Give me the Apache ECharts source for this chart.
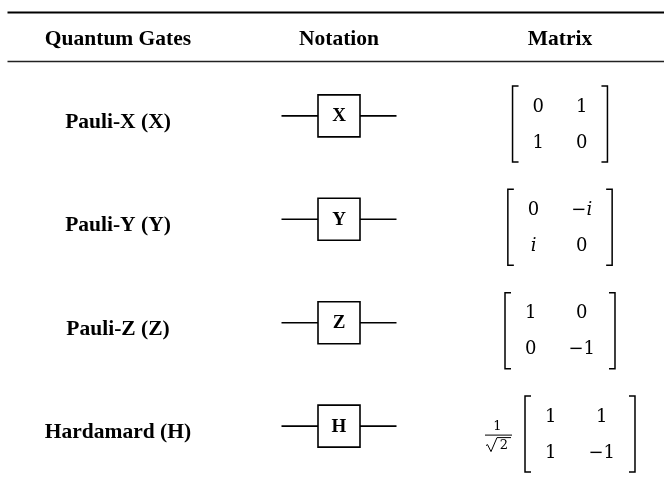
<!DOCTYPE html>
<html>
<head>
<meta charset="utf-8">
<script src="https://cdn.jsdelivr.net/npm/echarts@6/dist/echarts.min.js"></script>
<style>
  html, body { margin: 0; padding: 0; background: #fff; }
  #main { width: 664px; height: 483px; }
</style>
</head>
<body>
<div id="main"></div>
<script>
// table content
const columnTitles = ['Quantum Gates', 'Notation', 'Matrix'];
const gateNames = ['Pauli-X (X)', 'Pauli-Y (Y)', 'Pauli-Z (Z)', 'Hardamard (H)'];
const gateSymbols = ['X', 'Y', 'Z', 'H'];
const matrixTop = [['0', '1'], ['0', '−i'], ['1', '0'], ['1', '1']];
const matrixBottom = [['1', '0'], ['i', '0'], ['0', '−1'], ['1', '−1']];
const prefactorNum = ['', '', '', '1'];
const prefactorRad = ['', '', '', '2'];

// layout: column / row positions on the (hidden) axes
const COL0 = 118, COL_STEP = 221;       // px centre of first column, px per column
const ROW_TOP = 12.5, ROW_STEP = 103.4; // px of row 0, px per row
const HEADER_ROW = 0.261, MID_RULE_ROW = 0.474;

const TEXT_FONT = '"Liberation Serif", "Times New Roman", serif';
const MATH_FONT = '"DejaVu Serif", serif';
const MATH_SIZE = 18;
const PAD = 20, SEP = 32;               // bracket padding, column gap
const FRAC_W = 27, FRAC_GAP = 13;

const mctx = document.createElement('canvas').getContext('2d');
function textW(s) {
  mctx.font = MATH_SIZE + 'px ' + MATH_FONT;
  return mctx.measureText(s).width;
}

// math text: italic i, upright digits and minus
function mathText(s) {
  return s.split('').map(ch => ch === 'i' ? '{it|i}' : '{rm|' + ch + '}').join('');
}
const mathRich = {
  rm: { fontSize: MATH_SIZE, fontFamily: MATH_FONT, fill: '#000' },
  it: { fontSize: MATH_SIZE, fontFamily: MATH_FONT, fontStyle: 'italic', fill: '#000' }
};

function txt(s, x, y, font) {
  return {
    type: 'text',
    style: { text: s, x: x, y: y, font: font, fill: '#000', textAlign: 'center', textVerticalAlign: 'middle' }
  };
}

function line(x1, y1, x2, y2, w, c) {
  return { type: 'line', shape: { x1, y1, x2, y2 }, style: { stroke: c || '#000', lineWidth: w } };
}

// cells: [col, row, kind, index]  kind: 0 rule, 1 header, 2 name, 3 gate, 4 matrix
const cells = [[0, 0, 0, 0], [0, MID_RULE_ROW, 0, 1]];
columnTitles.forEach((t, c) => cells.push([c, HEADER_ROW, 1, c]));
gateNames.forEach((g, r) => {
  cells.push([0, r + 1, 2, r]);
  cells.push([1, r + 1, 3, r]);
  cells.push([2, r + 1, 4, r]);
});

function renderCell(params, api) {
  const kind = api.value(2), idx = api.value(3);
  const p = api.coord([api.value(0), api.value(1)]);
  const x = p[0], y = p[1];

  if (kind === 0) {
    const xl = api.coord([-0.5, 0])[0], xr = api.coord([2.5, 0])[0];
    return idx === 0 ? line(xl, y, xr, y, 2, '#000') : line(xl, y, xr, y, 1.3, '#222');
  }
  if (kind === 1) return txt(columnTitles[idx], x, y, 'bold 21.5px ' + TEXT_FONT);
  if (kind === 2) return txt(gateNames[idx], x, y + 6.5, 'bold 21.5px ' + TEXT_FONT);
  if (kind === 3) {
    return {
      type: 'group',
      children: [
        line(x - 57.5, y, x + 57.5, y, 1.6),
        { type: 'rect', shape: { x: x - 21, y: y - 21, width: 42, height: 42 },
          style: { fill: '#fff', stroke: '#000', lineWidth: 1.6 } },
        txt(gateSymbols[idx], x, y + 0.5, 'bold 19px ' + TEXT_FONT)
      ]
    };
  }

  // matrix
  const top = matrixTop[idx], bot = matrixBottom[idx];
  const cy = y + 8;
  const w1 = Math.max(textW(top[0]), textW(bot[0]));
  const w2 = Math.max(textW(top[1]), textW(bot[1]));
  const matW = 2 * PAD + w1 + SEP + w2;
  const hasPref = prefactorNum[idx] !== '';
  const prefW = hasPref ? FRAC_W + FRAC_GAP : 0;
  const left = x - (prefW + matW) / 2;
  const L = left + prefW, R = L + matW;
  const h = 38, serif = 6;
  const c1 = L + PAD + w1 / 2, c2 = L + PAD + w1 + SEP + w2 / 2;
  const children = [
    { type: 'polyline', shape: { points: [[L + serif, cy - h], [L, cy - h], [L, cy + h], [L + serif, cy + h]] },
      style: { stroke: '#000', fill: 'none', lineWidth: 1.5 } },
    { type: 'polyline', shape: { points: [[R - serif, cy - h], [R, cy - h], [R, cy + h], [R - serif, cy + h]] },
      style: { stroke: '#000', fill: 'none', lineWidth: 1.5 } }
  ];
  [[top, cy - 17], [bot, cy + 19]].forEach(([rowVals, ry]) => {
    [c1, c2].forEach((cx, k) => {
      children.push({
        type: 'text',
        style: { text: mathText(rowVals[k]), x: cx, y: ry, rich: mathRich,
                 textAlign: 'center', textVerticalAlign: 'middle' }
      });
    });
  });
  if (hasPref) {
    const fx = left + FRAC_W / 2, by = cy + 1;
    children.push(line(fx - 13.5, by, fx + 13.5, by, 1));
    children.push(txt(prefactorNum[idx], fx - 1, by - 8, '13px ' + MATH_FONT));
    children.push({
      type: 'polyline',
      shape: { points: [[fx - 12.5, by + 10.5], [fx - 11, by + 9.5], [fx - 7.5, by + 16.5], [fx - 1.5, by + 2.5], [fx + 12.5, by + 2.5]] },
      style: { stroke: '#000', fill: 'none', lineWidth: 1 }
    });
    children.push(txt(prefactorRad[idx], fx + 5.5, by + 10.5, '13px ' + MATH_FONT));
  }
  return { type: 'group', children: children };
}

const chart = echarts.init(document.getElementById('main'), null, { renderer: 'canvas' });
const H = 483;
chart.setOption({
  backgroundColor: '#fff',
  animation: false,
  grid: { left: 0, right: 0, top: ROW_TOP, bottom: 0 },
  xAxis: { type: 'value', min: -COL0 / COL_STEP, max: (664 - COL0) / COL_STEP, show: false },
  yAxis: { type: 'value', inverse: true, min: 0, max: (H - ROW_TOP) / ROW_STEP, show: false },
  series: [{
    type: 'custom',
    coordinateSystem: 'cartesian2d',
    silent: true,
    clip: false,
    renderItem: renderCell,
    data: cells
  }]
});
</script>
</body>
</html>
